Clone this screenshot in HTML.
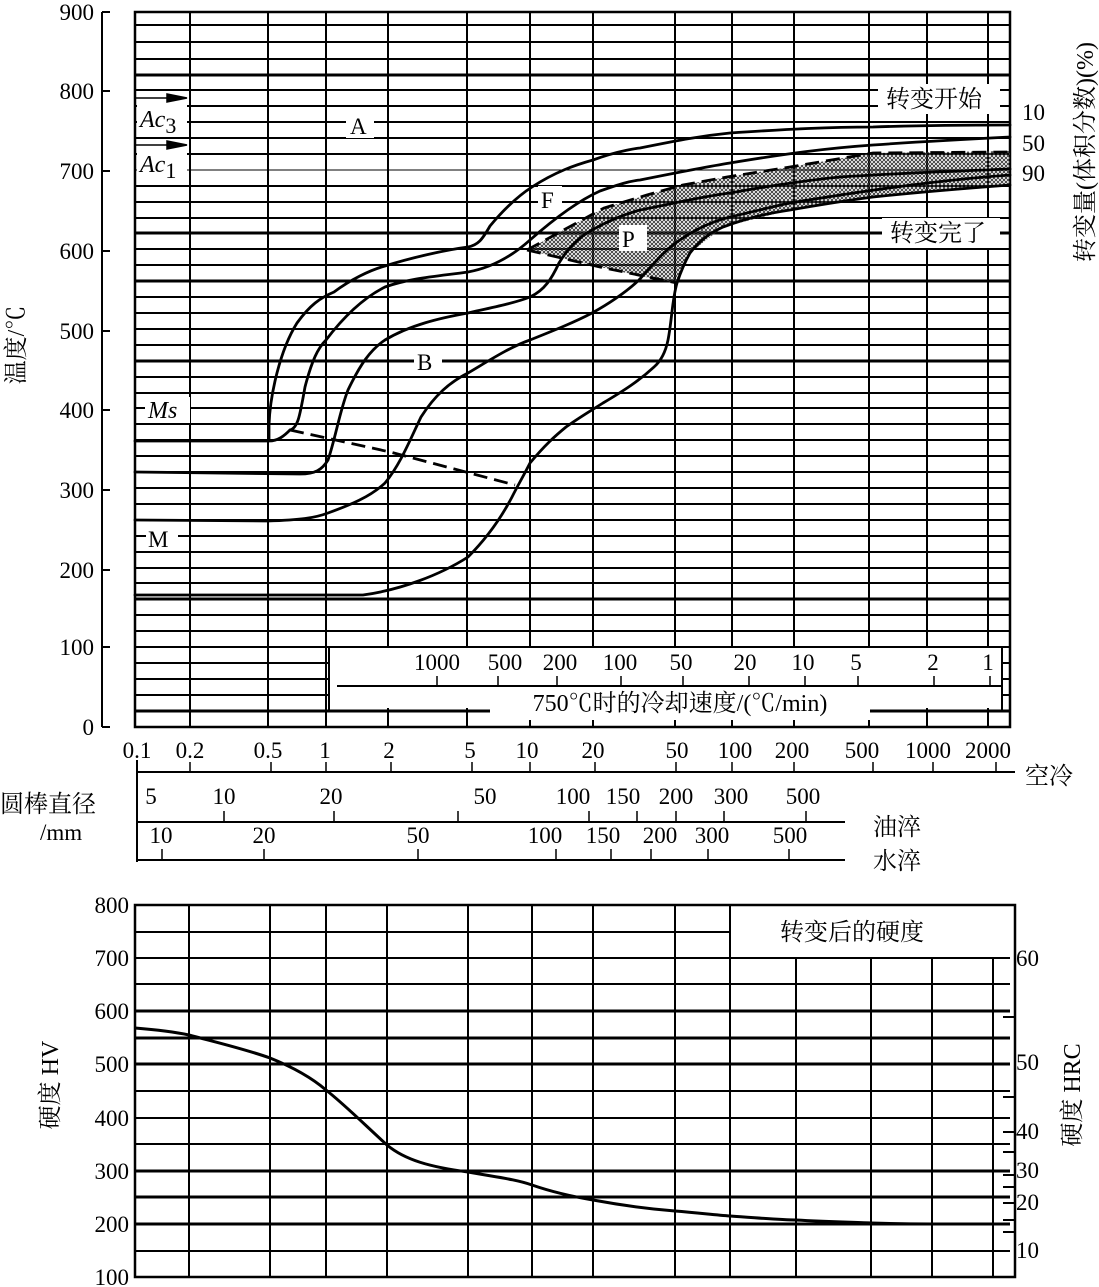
<!DOCTYPE html>
<html><head><meta charset="utf-8">
<style>
html,body{margin:0;padding:0;background:#fff}
svg{display:block}
.n{font-family:"Liberation Serif",serif;font-size:23px;fill:#000}
.c{font-family:"Liberation Serif","Noto Serif CJK SC",serif;font-size:24px;fill:#000}
</style></head><body>
<svg width="1099" height="1287" viewBox="0 0 1099 1287" xmlns="http://www.w3.org/2000/svg">
<defs>
<pattern id="h" width="4" height="4" patternUnits="userSpaceOnUse">
<path d="M0 0L4 4M4 0L0 4" stroke="#333" stroke-width="0.9"/>
</pattern>
</defs>
<rect width="1099" height="1287" fill="#fff"/>

<g stroke="#000" stroke-width="2">
<line x1="135" y1="711" x2="1010" y2="711" stroke-width="3"/>
<line x1="135" y1="695" x2="1010" y2="695"/>
<line x1="135" y1="679" x2="1010" y2="679"/>
<line x1="135" y1="663" x2="1010" y2="663"/>
<line x1="135" y1="647" x2="1010" y2="647"/>
<line x1="135" y1="631" x2="1010" y2="631"/>
<line x1="135" y1="615" x2="1010" y2="615"/>
<line x1="135" y1="599" x2="1010" y2="599" stroke-width="3"/>
<line x1="135" y1="583" x2="1010" y2="583"/>
<line x1="135" y1="568" x2="1010" y2="568"/>
<line x1="135" y1="552" x2="1010" y2="552"/>
<line x1="135" y1="536" x2="1010" y2="536"/>
<line x1="135" y1="520" x2="1010" y2="520"/>
<line x1="135" y1="504" x2="1010" y2="504"/>
<line x1="135" y1="488" x2="1010" y2="488"/>
<line x1="135" y1="472" x2="1010" y2="472"/>
<line x1="135" y1="456" x2="1010" y2="456"/>
<line x1="135" y1="440" x2="1010" y2="440"/>
<line x1="135" y1="424" x2="1010" y2="424"/>
<line x1="135" y1="408" x2="1010" y2="408"/>
<line x1="135" y1="393" x2="1010" y2="393"/>
<line x1="135" y1="377" x2="1010" y2="377"/>
<line x1="135" y1="361" x2="1010" y2="361" stroke-width="3"/>
<line x1="135" y1="345" x2="1010" y2="345"/>
<line x1="135" y1="329" x2="1010" y2="329"/>
<line x1="135" y1="313" x2="1010" y2="313"/>
<line x1="135" y1="297" x2="1010" y2="297"/>
<line x1="135" y1="281" x2="1010" y2="281" stroke-width="3"/>
<line x1="135" y1="265" x2="1010" y2="265"/>
<line x1="135" y1="249" x2="1010" y2="249"/>
<line x1="135" y1="233" x2="1010" y2="233" stroke-width="3"/>
<line x1="135" y1="218" x2="1010" y2="218"/>
<line x1="135" y1="202" x2="1010" y2="202"/>
<line x1="135" y1="186" x2="1010" y2="186"/>
<line x1="135" y1="170" x2="1010" y2="170" stroke-width="1"/>
<line x1="135" y1="154" x2="1010" y2="154"/>
<line x1="135" y1="138" x2="1010" y2="138"/>
<line x1="135" y1="122" x2="1010" y2="122"/>
<line x1="135" y1="106" x2="1010" y2="106"/>
<line x1="135" y1="90" x2="1010" y2="90"/>
<line x1="135" y1="75" x2="1010" y2="75" stroke-width="3"/>
<line x1="135" y1="59" x2="1010" y2="59"/>
<line x1="135" y1="42" x2="1010" y2="42"/>
<line x1="135" y1="25" x2="1010" y2="25"/>
</g>
<g stroke="#000" stroke-width="2">
<line x1="190" y1="12" x2="190" y2="727"/>
<line x1="268" y1="12" x2="268" y2="727"/>
<line x1="326" y1="12" x2="326" y2="727"/>
<line x1="388" y1="12" x2="388" y2="727"/>
<line x1="467" y1="12" x2="467" y2="727"/>
<line x1="530" y1="12" x2="530" y2="727"/>
<line x1="593" y1="12" x2="593" y2="727"/>
<line x1="675" y1="12" x2="675" y2="727"/>
<line x1="732" y1="12" x2="732" y2="727"/>
<line x1="794" y1="12" x2="794" y2="727"/>
<line x1="869" y1="12" x2="869" y2="727"/>
<line x1="927" y1="12" x2="927" y2="727"/>
<line x1="988" y1="12" x2="988" y2="727"/>
</g>
<rect x="135" y="12" width="875" height="715" fill="none" stroke="#000" stroke-width="2.5"/>

<g stroke="#000" stroke-width="2">
<line x1="102" y1="12" x2="102" y2="727"/>
<line x1="102" y1="12" x2="110" y2="12"/><line x1="102" y1="91" x2="110" y2="91"/>
<line x1="102" y1="171" x2="110" y2="171"/><line x1="102" y1="251" x2="110" y2="251"/>
<line x1="102" y1="331" x2="110" y2="331"/><line x1="102" y1="410" x2="110" y2="410"/>
<line x1="102" y1="490" x2="110" y2="490"/><line x1="102" y1="570" x2="110" y2="570"/>
<line x1="102" y1="647" x2="110" y2="647"/><line x1="102" y1="727" x2="110" y2="727"/>
</g>
<g class="n" text-anchor="end">
<text x="94" y="20">900</text><text x="94" y="99">800</text><text x="94" y="179">700</text>
<text x="94" y="259">600</text><text x="94" y="339">500</text><text x="94" y="418">400</text>
<text x="94" y="498">300</text><text x="94" y="578">200</text><text x="94" y="655">100</text>
<text x="94" y="735">0</text>
</g>
<text class="c" transform="translate(24,345) rotate(-90)" text-anchor="middle" font-size="22">温度/℃</text>

<path d="M527 250 L560 232 L604 208 L647 195 L683 185 L727 177 L790 167 L873 153 L1010 151 L1010 186 L873 197 L790 210 L723 227 L690 253 L677 283 L640 276 L600 267 Z" fill="url(#h)"/>

<g fill="none" stroke="#000" stroke-width="2.8" stroke-linejoin="round" stroke-linecap="round">
<path d="M269 440 L269 425 C270 395 280 350 297 323 C310 305 320 298 334 292 C350 280 370 270 385 266 C410 258 445 250 468 247 C478 245 482 240 490 226 C505 208 518 196 532 187 C555 172 575 165 593 160 C620 150 640 148 640 148 C680 140 700 136 730 133 C790 129 830 127 873 127 C930 125 980 125 1010 125"/>
<path d="M135 441 L269 441 C278 441 284 436 290 430"/>
<path d="M290 430 C298 428 300 415 305 387 C312 360 318 348 326 340 C345 315 365 297 385 287 C410 278 440 276 468 272 C490 268 510 258 530 240 C555 218 580 200 600 191 C620 184 630 181 640 180 C680 172 705 167 730 163 C790 153 830 148 873 145 C930 141 970 139 1010 137"/>
<path d="M135 472 L300 474 C315 474 322 470 328 460 C335 440 340 410 348 390 C360 365 370 350 385 340 C410 325 440 318 468 313 C490 308 515 303 530 297 C545 290 552 278 559 263 C568 248 578 238 592 230 C610 220 625 214 640 210 C680 202 705 196 730 193 C780 184 810 180 840 177 C900 173 960 171 1010 169"/>
<path d="M135 520 L268 521 C300 520 315 518 328 513 C350 505 370 497 385 483 C400 465 410 440 421 417 C435 395 450 382 468 373 C490 360 510 347 530 340 C555 330 575 322 592 313 C610 303 625 293 639 280 C650 268 660 255 673 245 C690 232 710 222 730 217 C760 210 775 206 790 203 C870 190 940 180 1010 175"/>
<path d="M135 595 L363 595 C400 590 440 575 468 557 C485 540 500 520 512 497 C518 485 524 475 530 463 C545 445 555 436 566 427 C580 417 592 410 603 403 C625 390 640 380 654 367 C662 360 666 350 668 340 C672 320 672 300 677 283 C682 268 686 260 690 253 C700 240 710 233 723 227 C750 217 770 213 790 210 C830 203 850 200 873 197 C930 191 970 188 1010 185"/>
</g>
<g fill="none" stroke="#000" stroke-width="2.8" stroke-dasharray="14,7">
<path d="M290 430 L390 452 L515 485"/>
<path d="M527 250 L604 208 L647 195 L683 185 L727 177 L790 167 L873 153 L1010 152"/>
<path d="M527 250 L600 267 L677 283"/>
</g>

<g stroke="#000" stroke-width="1.5">
<line x1="135" y1="98" x2="185" y2="98"/><path d="M167 94 L187 98 L167 102 Z" fill="#000"/>
<line x1="135" y1="145" x2="185" y2="145"/><path d="M167 141 L187 145 L167 149 Z" fill="#000"/>
</g>
<rect x="137" y="104" width="50" height="30" fill="#fff"/>
<rect x="137" y="150" width="50" height="30" fill="#fff"/>
<text x="140" y="127" font-family="Liberation Serif,serif" font-style="italic" font-size="24">Ac<tspan font-style="normal" font-size="22" dy="6">3</tspan></text>
<text x="140" y="172" font-family="Liberation Serif,serif" font-style="italic" font-size="24">Ac<tspan font-style="normal" font-size="22" dy="6">1</tspan></text>
<rect x="145" y="397" width="45" height="26" fill="#fff"/>
<text x="148" y="418" font-family="Liberation Serif,serif" font-style="italic" font-size="24">Ms</text>
<rect x="146" y="525" width="32" height="26" fill="#fff"/>
<text class="n" x="148" y="547" font-size="24">M</text>
<rect x="346" y="112" width="28" height="26" fill="#fff"/>
<text class="n" x="350" y="134" font-size="24">A</text>
<rect x="414" y="348" width="28" height="26" fill="#fff"/>
<text class="n" x="417" y="370" font-size="24">B</text>
<rect x="538" y="186" width="24" height="26" fill="#fff"/>
<text class="n" x="541" y="208" font-size="24">F</text>
<rect x="619" y="225" width="28" height="26" fill="#fff"/>
<text class="n" x="622" y="247" font-size="24">P</text>

<rect x="878" y="84" width="122" height="30" fill="#fff"/>
<text class="c" x="886" y="107" font-size="25">转变开始</text>
<rect x="882" y="218" width="118" height="30" fill="#fff"/>
<text class="c" x="890" y="241" font-size="25">转变完了</text>
<g class="n" font-size="24"><text x="1022" y="120">10</text><text x="1022" y="151">50</text><text x="1022" y="181">90</text></g>
<text class="c" transform="translate(1093,152) rotate(-90)" text-anchor="middle" font-size="23">转变量(体积分数)(%)</text>

<rect x="329" y="648" width="673" height="60" fill="#fff"/>
<line x1="329" y1="647" x2="329" y2="711" stroke="#000" stroke-width="2"/>
<line x1="1002" y1="647" x2="1002" y2="711" stroke="#000" stroke-width="2"/>
<line x1="337" y1="686" x2="1002" y2="686" stroke="#000" stroke-width="2"/>
<g stroke="#000" stroke-width="1.5">
<line x1="437" y1="676" x2="437" y2="686"/><line x1="498" y1="676" x2="498" y2="686"/>
<line x1="557" y1="676" x2="557" y2="686"/><line x1="621" y1="676" x2="621" y2="686"/>
<line x1="683" y1="676" x2="683" y2="686"/><line x1="749" y1="676" x2="749" y2="686"/>
<line x1="805" y1="676" x2="805" y2="686"/><line x1="858" y1="676" x2="858" y2="686"/>
<line x1="934" y1="676" x2="934" y2="686"/><line x1="990" y1="676" x2="990" y2="686"/>
</g>
<g class="n" text-anchor="middle" font-size="22">
<text x="437" y="670">1000</text><text x="505" y="670">500</text><text x="560" y="670">200</text>
<text x="620" y="670">100</text><text x="681" y="670">50</text><text x="745" y="670">20</text>
<text x="803" y="670">10</text><text x="856" y="670">5</text><text x="933" y="670">2</text><text x="988" y="670">1</text>
</g>
<rect x="490" y="694" width="380" height="26" fill="#fff"/>
<text class="c" x="680" y="711" text-anchor="middle" font-size="22">750℃时的冷却速度/(℃/min)</text>

<g class="n" text-anchor="middle" font-size="23">
<text x="137" y="758">0.1</text><text x="190" y="758">0.2</text><text x="268" y="758">0.5</text>
<text x="325" y="758">1</text><text x="389" y="758">2</text><text x="470" y="758">5</text>
<text x="527" y="758">10</text><text x="593" y="758">20</text><text x="677" y="758">50</text>
<text x="735" y="758">100</text><text x="792" y="758">200</text><text x="862" y="758">500</text>
<text x="928" y="758">1000</text><text x="988" y="758">2000</text>
</g>
<g stroke="#000" stroke-width="2">
<line x1="137" y1="772" x2="1015" y2="772"/>
<line x1="137" y1="760" x2="137" y2="862"/>
<line x1="137" y1="822" x2="845" y2="822"/>
<line x1="137" y1="860" x2="845" y2="860"/>
</g>
<g stroke="#000" stroke-width="1.5">
<line x1="190" y1="762" x2="190" y2="772"/><line x1="271" y1="762" x2="271" y2="772"/>
<line x1="326" y1="762" x2="326" y2="772"/><line x1="391" y1="762" x2="391" y2="772"/>
<line x1="472" y1="762" x2="472" y2="772"/><line x1="530" y1="762" x2="530" y2="772"/>
<line x1="595" y1="762" x2="595" y2="772"/><line x1="676" y1="762" x2="676" y2="772"/>
<line x1="732" y1="762" x2="732" y2="772"/><line x1="794" y1="762" x2="794" y2="772"/>
<line x1="873" y1="762" x2="873" y2="772"/><line x1="933" y1="762" x2="933" y2="772"/>
<line x1="996" y1="762" x2="996" y2="772"/>
<line x1="224" y1="811" x2="224" y2="822"/><line x1="334" y1="811" x2="334" y2="822"/>
<line x1="458" y1="811" x2="458" y2="822"/><line x1="589" y1="811" x2="589" y2="822"/>
<line x1="637" y1="811" x2="637" y2="822"/><line x1="676" y1="811" x2="676" y2="822"/>
<line x1="724" y1="811" x2="724" y2="822"/><line x1="806" y1="811" x2="806" y2="822"/>
<line x1="162" y1="849" x2="162" y2="860"/><line x1="264" y1="849" x2="264" y2="860"/>
<line x1="418" y1="849" x2="418" y2="860"/><line x1="556" y1="849" x2="556" y2="860"/>
<line x1="611" y1="849" x2="611" y2="860"/><line x1="651" y1="849" x2="651" y2="860"/>
<line x1="708" y1="849" x2="708" y2="860"/><line x1="789" y1="849" x2="789" y2="860"/>
</g>
<g class="n" text-anchor="middle" font-size="23">
<text x="151" y="804">5</text><text x="224" y="804">10</text><text x="331" y="804">20</text>
<text x="485" y="804">50</text><text x="573" y="804">100</text><text x="623" y="804">150</text>
<text x="676" y="804">200</text><text x="731" y="804">300</text><text x="803" y="804">500</text>
<text x="161" y="843">10</text><text x="264" y="843">20</text><text x="418" y="843">50</text>
<text x="545" y="843">100</text><text x="603" y="843">150</text><text x="660" y="843">200</text>
<text x="712" y="843">300</text><text x="790" y="843">500</text>
</g>
<text class="c" x="1025" y="784" font-size="25">空冷</text>
<text class="c" x="873" y="835" font-size="25">油淬</text>
<text class="c" x="873" y="869" font-size="25">水淬</text>
<text class="c" x="0" y="812" font-size="25">圆棒直径</text>
<text class="n" x="40" y="840" font-size="24">/mm</text>

<g stroke="#000" stroke-width="2">
<line x1="135" y1="932" x2="730" y2="932"/>
<line x1="135" y1="958" x2="1010" y2="958"/>
<line x1="135" y1="984" x2="1010" y2="984"/>
<line x1="135" y1="1011" x2="1010" y2="1011" stroke-width="3"/>
<line x1="135" y1="1038" x2="1010" y2="1038" stroke-width="3"/>
<line x1="135" y1="1064" x2="1010" y2="1064" stroke-width="3"/>
<line x1="135" y1="1091" x2="1010" y2="1091"/>
<line x1="135" y1="1118" x2="1010" y2="1118"/>
<line x1="135" y1="1144" x2="1010" y2="1144"/>
<line x1="135" y1="1171" x2="1010" y2="1171" stroke-width="3"/>
<line x1="135" y1="1197" x2="1010" y2="1197" stroke-width="3"/>
<line x1="135" y1="1224" x2="1010" y2="1224" stroke-width="3"/>
<line x1="135" y1="1251" x2="1010" y2="1251"/>
</g>
<g stroke="#000" stroke-width="2">
<line x1="189" y1="905" x2="189" y2="1277"/><line x1="270" y1="905" x2="270" y2="1277"/>
<line x1="326" y1="905" x2="326" y2="1277"/><line x1="387" y1="905" x2="387" y2="1277"/>
<line x1="468" y1="905" x2="468" y2="1277"/><line x1="532" y1="905" x2="532" y2="1277"/>
<line x1="593" y1="905" x2="593" y2="1277"/><line x1="675" y1="905" x2="675" y2="1277"/>
<line x1="730" y1="905" x2="730" y2="1277"/>
<line x1="796" y1="958" x2="796" y2="1277"/><line x1="871" y1="958" x2="871" y2="1277"/>
<line x1="932" y1="958" x2="932" y2="1277"/><line x1="993" y1="958" x2="993" y2="1277"/>
</g>
<rect x="135" y="905" width="880" height="372" fill="none" stroke="#000" stroke-width="2.5"/>
<text class="c" x="780" y="940" font-size="25">转变后的硬度</text>
<path d="M135 1028 C160 1030 175 1032 189 1035 C215 1042 245 1049 270 1058 C295 1068 312 1078 326 1090 C345 1105 365 1125 387 1145 C405 1160 430 1167 468 1172 C495 1177 515 1179 532 1185 C555 1193 575 1197 593 1200 C620 1205 650 1209 675 1211 C700 1213 715 1215 730 1216 C760 1218 780 1220 796 1220 C830 1222 850 1222 871 1223 C900 1224 915 1224 932 1224" fill="none" stroke="#000" stroke-width="3"/>
<g class="n" text-anchor="end" font-size="23">
<text x="129" y="913">800</text><text x="129" y="966">700</text><text x="129" y="1019">600</text>
<text x="129" y="1072">500</text><text x="129" y="1126">400</text><text x="129" y="1179">300</text>
<text x="129" y="1232">200</text><text x="129" y="1285">100</text>
</g>
<g stroke="#000" stroke-width="2">
<line x1="1003" y1="1017" x2="1015" y2="1017"/><line x1="1003" y1="1097" x2="1015" y2="1097"/>
<line x1="1003" y1="1132" x2="1015" y2="1132"/><line x1="1003" y1="1152" x2="1015" y2="1152"/>
<line x1="1003" y1="1175" x2="1015" y2="1175"/><line x1="1003" y1="1187" x2="1015" y2="1187"/>
<line x1="1003" y1="1203" x2="1015" y2="1203"/><line x1="1003" y1="1220" x2="1015" y2="1220"/>
<line x1="1003" y1="1232" x2="1015" y2="1232"/>
</g>
<g class="n" font-size="23">
<text x="1016" y="966">60</text><text x="1016" y="1070">50</text><text x="1016" y="1139">40</text>
<text x="1016" y="1178">30</text><text x="1016" y="1210">20</text><text x="1016" y="1258">10</text>
</g>
<text class="c" transform="translate(58,1085) rotate(-90)" text-anchor="middle" font-size="25">硬度  HV</text>
<text class="c" transform="translate(1080,1095) rotate(-90)" text-anchor="middle" font-size="25">硬度  HRC</text>
</svg>
</body></html>
